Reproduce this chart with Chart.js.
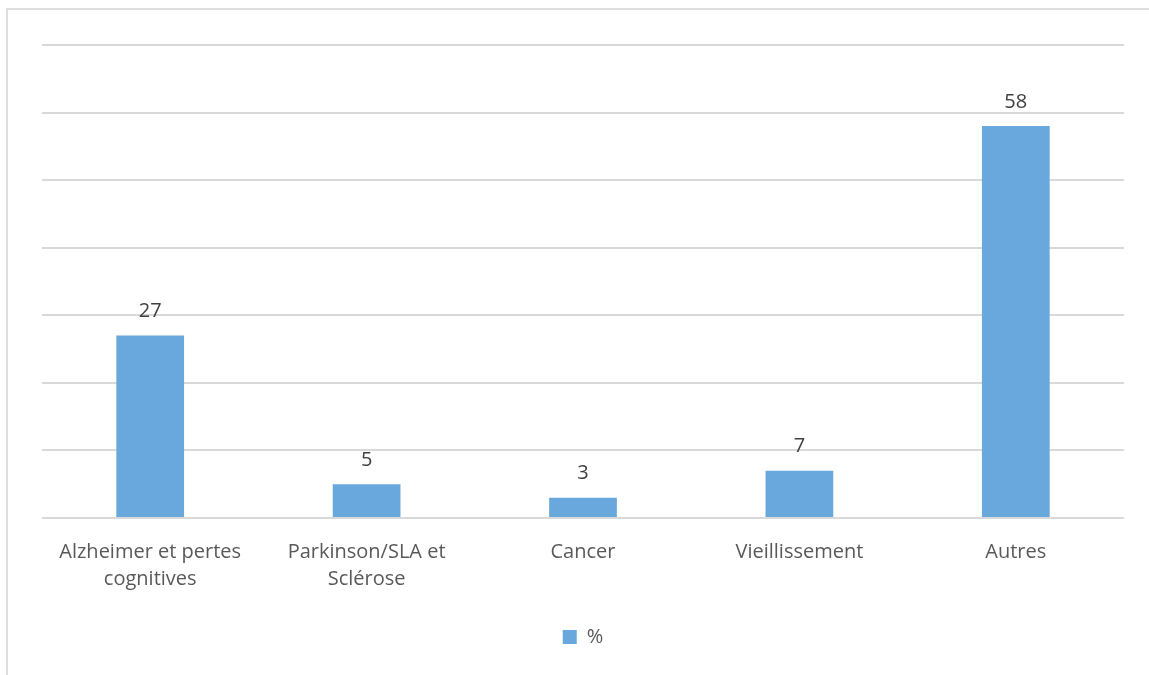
<!DOCTYPE html>
<html>
<head>
<meta charset="utf-8">
<script src="https://cdn.jsdelivr.net/npm/chart.js@4"></script>
<style>
  html, body { margin:0; padding:0; background:#fff; overflow:hidden; }
  #frame { position:absolute; left:6px; top:8px; width:2000px; height:2000px; border:2px solid #dedede; box-sizing:border-box; }
  #wrap { position:absolute; left:0; top:0; width:1149px; height:675px; }
</style>
</head>
<body>
<div id="frame"></div>
<div id="wrap"><canvas id="c" width="1149" height="675"></canvas></div>
<script>
const categories = [["Alzheimer et pertes", "cognitives"], ["Parkinson/SLA et", "Sclérose"], "Cancer", "Vieillissement", "Autres"];
const seriesName = "%";
const values = [27, 5, 3, 7, 58];
const yMin = 0, yMax = 70, yStep = 10;

const FONT = "'Open Sans', 'Liberation Sans', sans-serif";
const TEXT = "#595959";
const BAR = "#68A8DC";
const GRID = "#d9d9d9";

const labelPlugin = {
  id: 'valueLabels',
  afterDatasetsDraw(chart) {
    const ctx = chart.ctx;
    const meta = chart.getDatasetMeta(0);
    ctx.save();
    ctx.font = "20px " + FONT;
    ctx.fillStyle = "#404040";
    ctx.textAlign = "center";
    ctx.textBaseline = "bottom";
    meta.data.forEach((bar, i) => {
      ctx.fillText(String(values[i]), bar.x, bar.y - 14);
    });
    ctx.restore();
  }
};

new Chart(document.getElementById('c'), {
  type: 'bar',
  data: {
    labels: categories,
    datasets: [{
      label: seriesName,
      data: values,
      backgroundColor: BAR,
      borderWidth: 0,
      categoryPercentage: 1,
      barPercentage: 0.313
    }]
  },
  options: {
    responsive: false,
    animation: false,
    devicePixelRatio: 1,
    layout: { padding: { left: 42, right: 25, top: 45, bottom: 18 } },
    scales: {
      x: {
        grid: { display: false },
        border: { display: false },
        ticks: { color: TEXT, font: { family: FONT, size: 20, lineHeight: 1.35 }, padding: 13, maxRotation: 0, autoSkip: false },
        afterFit(scale) { scale.height = 99; }
      },
      y: {
        min: yMin, max: yMax,
        ticks: { display: false, stepSize: yStep },
        grid: { color: GRID, lineWidth: 2, drawTicks: false },
        border: { display: false },
        afterFit(scale) { scale.width = 0; }
      }
    },
    plugins: {
      legend: {
        position: 'bottom',
        labels: { color: TEXT, font: { family: FONT, size: 20 }, boxWidth: 14, boxHeight: 14, padding: 10 }
      },
      tooltip: { enabled: false }
    }
  },
  plugins: [labelPlugin]
});
</script>
</body>
</html>
